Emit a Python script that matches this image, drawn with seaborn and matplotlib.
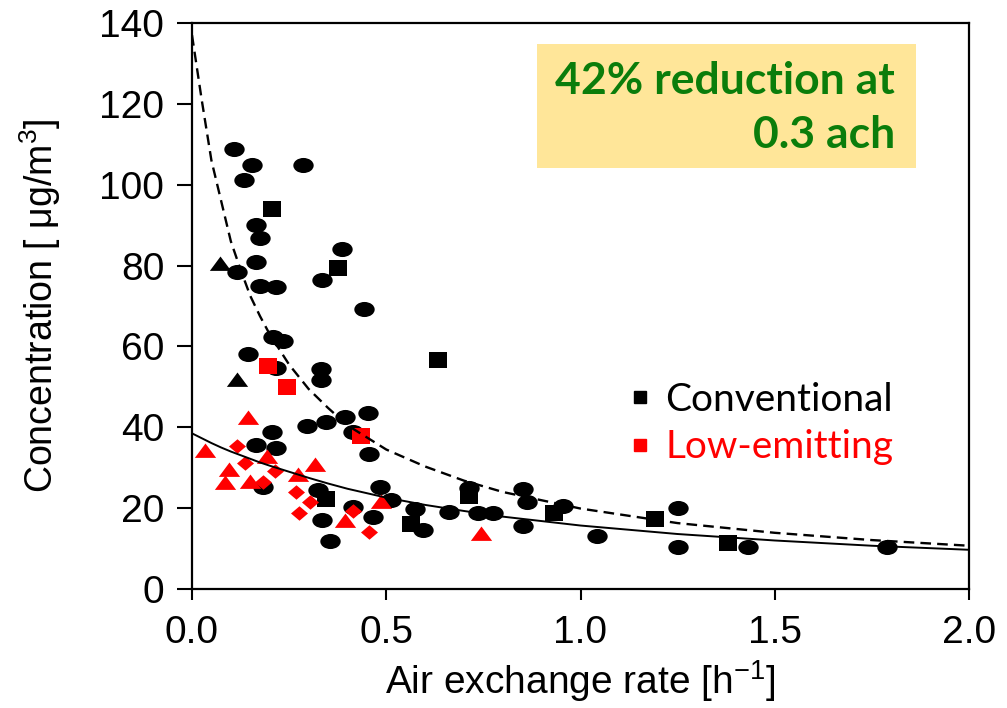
import numpy as np
import pandas as pd
import seaborn as sns
import matplotlib.pyplot as plt
from matplotlib.path import Path
from matplotlib.transforms import Affine2D
from matplotlib.lines import Line2D
from matplotlib.patches import Rectangle

# conventional homes
conv_circle_x = [0.107, 0.154, 0.285, 0.135, 0.165, 0.175, 0.385, 0.115, 0.165, 0.175,
                 0.215, 0.335, 0.444, 0.209, 0.235, 0.145, 0.215, 0.333, 0.333, 0.295,
                 0.344, 0.395, 0.453, 0.415, 0.455, 0.205, 0.165, 0.215, 0.184, 0.325,
                 0.415, 0.335, 0.466, 0.355, 0.483, 0.513, 0.573, 0.594, 0.662, 0.714,
                 0.735, 0.776, 0.853, 0.863, 0.853, 0.956, 1.043, 1.25, 1.25, 1.432, 1.79]
conv_circle_y = [108.9, 104.9, 104.9, 101.2, 90.0, 86.8, 84.0, 78.5, 80.8, 75.0,
                 74.8, 76.4, 69.2, 62.3, 61.4, 58.1, 54.6, 54.4, 51.8, 40.3,
                 41.3, 42.6, 43.6, 38.8, 33.3, 38.8, 35.7, 34.9, 25.2, 24.6,
                 20.3, 17.0, 17.8, 11.8, 25.3, 22.0, 19.7, 14.5, 19.1, 25.1,
                 18.7, 18.7, 24.8, 21.4, 15.5, 20.5, 13.1, 20.1, 10.5, 10.5, 10.3]
conv_square_x = [0.205, 0.376, 0.633, 0.346, 0.564, 0.714, 0.932, 1.192, 1.38]
conv_square_y = [94.1, 79.3, 56.7, 22.2, 16.0, 23.0, 18.9, 17.4, 11.5]
conv_tri_x = [0.073, 0.115]
conv_tri_y = [80.5, 51.6]

# low-emitting homes
low_square_x = [0.195, 0.244, 0.434]
low_square_y = [55.2, 49.9, 37.8]
low_tri_x = [0.145, 0.034, 0.192, 0.094, 0.274, 0.316, 0.085, 0.149, 0.395, 0.487, 0.744]
low_tri_y = [42.3, 34.1, 32.7, 29.4, 28.3, 30.6, 26.1, 26.4, 16.8, 21.6, 13.6]
low_diamond_x = [0.115, 0.137, 0.214, 0.184, 0.267, 0.303, 0.415, 0.275, 0.455]
low_diamond_y = [35.3, 31.1, 29.3, 26.4, 24.0, 21.5, 19.3, 18.9, 14.2]

# fitted curves
curve_x = [0.0, 0.025, 0.05, 0.075, 0.1, 0.125, 0.15, 0.175, 0.2, 0.25, 0.3, 0.35, 0.4,
           0.5, 0.6, 0.7, 0.8, 1.0, 1.25, 1.5, 1.75, 2.0]
conv_fit = [137, 121, 106, 96, 86, 79, 72.5, 67.5, 63, 55.5, 49.5, 44.8, 40.5,
            34.5, 30.3, 26.8, 24.0, 19.9, 16.3, 13.9, 12.1, 10.7]
low_fit = [38.5, 37.3, 36.1, 35.0, 34.0, 33.1, 32.2, 31.3, 30.5, 29.0, 27.5, 26.1, 24.8,
           22.6, 20.8, 19.3, 17.9, 15.7, 13.6, 12.0, 10.7, 9.7]

sns.set_style("ticks")
plt.rcParams['font.family'] = ['Liberation Sans', 'DejaVu Sans']
plt.rcParams['mathtext.fontset'] = 'custom'
plt.rcParams['mathtext.rm'] = 'Liberation Sans'
plt.rcParams['mathtext.default'] = 'rm'
for key in ['text.color', 'axes.labelcolor', 'xtick.color', 'ytick.color', 'axes.edgecolor']:
    plt.rcParams[key] = 'black'

# the original is stretched sideways, so the markers are a bit wide
ellipse = Path.unit_circle().transformed(Affine2D().scale(1.35, 1.0))
triangle = Path([(-1, -0.6), (1, -0.6), (0, 0.75), (-1, -0.6)],
                [Path.MOVETO, Path.LINETO, Path.LINETO, Path.CLOSEPOLY])
diamond = Path([(-1, 0), (0, 0.85), (1, 0), (0, -0.85), (-1, 0)],
               [Path.MOVETO, Path.LINETO, Path.LINETO, Path.LINETO, Path.CLOSEPOLY])
square = Path.unit_rectangle().transformed(Affine2D().translate(-0.5, -0.5).scale(1.1, 1.0))

groups = [
    (conv_circle_x, conv_circle_y, 'black', ellipse, 215),
    (conv_square_x, conv_square_y, 'black', square, 175),
    (conv_tri_x, conv_tri_y, 'black', triangle, 235),
    (low_square_x, low_square_y, 'red', square, 175),
    (low_tri_x, low_tri_y, 'red', triangle, 235),
    (low_diamond_x, low_diamond_y, 'red', diamond, 150),
]

fig = plt.figure(figsize=(10.07, 7.08), dpi=100)
ax = fig.add_axes([192 / 1007, 1 - 589 / 708, 777 / 1007, 566 / 708])

for gx, gy, col, mk, sz in groups:
    df = pd.DataFrame({'ach': gx, 'conc': gy})
    sns.scatterplot(data=df, x='ach', y='conc', color=col, marker=mk, s=sz,
                    linewidth=0, ax=ax, zorder=3)

fit_df = pd.DataFrame({'ach': curve_x, 'conv': conv_fit, 'low': low_fit})
sns.lineplot(data=fit_df, x='ach', y='conv', color='black', lw=1.7,
             ax=ax, zorder=4).lines[-1].set_dashes((4.5, 2.6))
sns.lineplot(data=fit_df, x='ach', y='low', color='black', lw=1.4, ax=ax, zorder=4)

ax.set_xlim(0, 2.0)
ax.set_ylim(0, 140)
ax.set_xticks([0.0, 0.5, 1.0, 1.5, 2.0])
ax.set_xticklabels(['0.0', '0.5', '1.0', '1.5', '2.0'])
ax.set_yticks(range(0, 141, 20))
for sp in ax.spines.values():
    sp.set_linewidth(1.6)
ax.tick_params(axis='y', length=11, width=1.5, pad=9, labelsize=28, direction='out')
ax.tick_params(axis='x', length=8, width=1.5, pad=11, labelsize=28, direction='out')

ax.set_xlabel('Air exchange rate [h$^{-1}$]', fontsize=28, labelpad=5)
ax.set_ylabel('Concentration [ μg/m$^3$]', fontsize=27, labelpad=26,
              family=['Liberation Sans Narrow', 'Liberation Sans'])

# highlighted note
fig.patches.append(Rectangle((537 / 1007, 1 - 168 / 708), 379 / 1007, 124 / 708,
                             transform=fig.transFigure, facecolor='#FFE699',
                             edgecolor='none', zorder=5))
fig.text(895 / 1007, 1 - 108 / 708, '42% reduction at\n0.3 ach', ha='right', va='center',
         fontsize=32, fontweight='bold', color='#0B7D0B', family=['Lato', 'DejaVu Sans'],
         linespacing=1.4, zorder=6)

handles = [Line2D([], [], marker='s', color='black', ls='none', markersize=9),
           Line2D([], [], marker='s', color='red', ls='none', markersize=9)]
ax.legend(handles, ['Conventional', 'Low-emitting'], loc='upper right',
          bbox_to_anchor=(909 / 1007, 1 - 366 / 708), bbox_transform=fig.transFigure,
          frameon=False, prop={'family': ['Lato', 'DejaVu Sans'], 'size': 28},
          labelcolor=['black', 'red'], handletextpad=0.25, handlelength=0.8,
          labelspacing=0.3, borderaxespad=0)

fig.savefig('out.png', dpi=100)
